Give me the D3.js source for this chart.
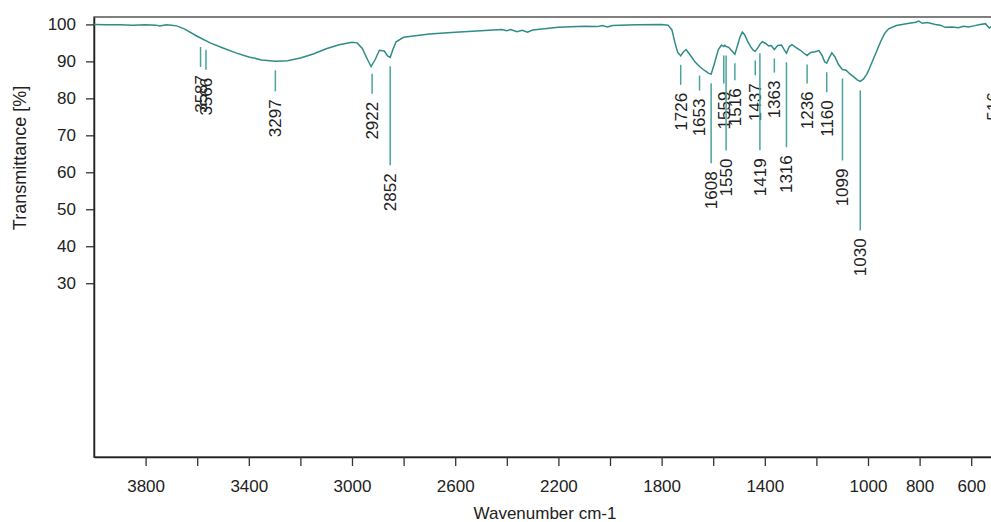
<!DOCTYPE html>
<html>
<head>
<meta charset="utf-8">
<script src="https://cdn.jsdelivr.net/npm/d3@7"></script>
<style>
body { margin:0; background:#fff; }
text { font-family: Arial, "Liberation Sans", sans-serif; fill:#222; }
</style>
</head>
<body>
<script>
// spectrum: wavenumber (cm-1) and transmittance (%)
var wavenumbers = [4000,3950,3900,3850,3800,3760,3745,3720,3700,3680,3650,3600,3550,3500,3450,3400,3350,3297,3250,3200,3150,3100,3050,3000,2980,2960,2940,2926,2910,2894,2875,2862,2852,2840,2829,2800,2700,2600,2500,2420,2400,2385,2360,2340,2320,2300,2200,2100,2050,2030,2010,1990,1900,1800,1775,1760,1748,1738,1726,1715,1705,1690,1670,1653,1635,1620,1608,1595,1580,1568,1559,1555,1550,1540,1530,1516,1505,1495,1487,1478,1468,1455,1445,1437,1428,1419,1410,1398,1385,1375,1363,1350,1335,1325,1316,1305,1295,1280,1262,1248,1236,1222,1205,1190,1178,1168,1160,1150,1140,1128,1115,1099,1085,1070,1055,1042,1030,1018,1005,995,980,965,950,935,920,890,868,840,815,803,790,770,739,720,700,674,650,630,610,590,570,545,530,515,500];
var transmittance = [100,99.9,99.9,99.8,99.9,99.8,99.6,99.9,99.8,99.6,98.8,96.8,95.0,93.6,92.3,91.2,90.4,90.0,90.2,90.9,92.0,93.4,94.5,95.2,95.0,93.5,90.5,88.6,90.5,93.0,92.8,91.5,91.1,93.5,95.3,96.5,97.4,97.9,98.3,98.6,98.3,98.6,98.0,98.4,97.9,98.5,99.2,99.5,99.4,99.7,99.3,99.7,99.9,100,99.8,98.5,95.0,92.5,91.5,92.6,93.2,91.8,89.8,88.6,87.6,86.9,86.5,89.5,93.2,94.4,94.0,94.4,94.0,93.8,93.0,91.9,94.5,96.8,97.9,97.2,95.6,94.0,93.0,92.7,93.6,94.6,95.3,94.9,94.2,94.3,93.2,94.3,94.4,93.2,92.2,94.0,94.5,93.8,93.0,92.2,91.6,92.4,92.6,92.9,91.6,89.9,89.5,91.0,92.3,91.2,89.2,87.8,87.6,86.6,85.8,85.0,84.6,85.2,86.5,88.0,90.5,93.0,95.5,97.6,98.8,99.7,100,100.3,100.6,100.9,100.3,100.5,100,99.8,99.2,99.3,99.1,99.5,99.3,99.6,99.9,100.2,99.0,99.8,100];

// picked peaks and the length of their marker lines
var peaks = [3587,3566,3297,2922,2852,1726,1653,1608,1559,1550,1516,1437,1419,1363,1316,1236,1160,1099,1030,516];
var peakLabels = ["3587","3566","3297","2922","2852","1726","1653","1608","1559","1550","1516","1437","1419","1363","1316","1236","1160","1099","1030","516"];
var peakLineLen = [20,20,21,20,99,20,15,80,28,95,17,15,97,14,85,19,20,82,140,50];

var xTicks = [3800,3600,3400,3200,3000,2800,2600,2400,2200,2000,1800,1600,1400,1200,1000,800,600];
var xTickLabels = [3800,3400,3000,2600,2200,1800,1400,1000,800,600];
var yTicks = [30,40,50,60,70,80,90,100];

var totalWidth = 991;
var totalHeight = 522;
var margin = {top:17,left:94,bottom:65,right:-6};
var width = totalWidth - margin.left - margin.right;
var height = totalHeight - margin.top - margin.bottom;

var svg = d3.select("body")
    .append("svg")
    .attr("width",totalWidth)
    .attr("height",totalHeight)
    .append("g")
    .attr("transform","translate("+margin.left+","+margin.top+")");

var xScale = d3.scaleLinear().domain([4000,500]).range([0,width]);
var yScale = d3.scaleLinear().domain([-17,102]).range([height,0]);

var spectrum = wavenumbers.map(function(w,i){ return [w,transmittance[i]]; });

function valueAt(w){
    for(var i = 0 ; i < wavenumbers.length-1 ; ++i){
        var a = wavenumbers[i], b = wavenumbers[i+1];
        if(w <= a && w >= b){
            var t = (a-w)/(a-b);
            return transmittance[i] + t*(transmittance[i+1]-transmittance[i]);
        }
    }
    return 100;
}

// frame
svg.append("rect")
    .attr("x",0).attr("y",0)
    .attr("width",width).attr("height",height)
    .attr("fill","none")
    .attr("stroke","#555")
    .attr("stroke-width",1.5);

var xAxisGroup = svg.append("g")
    .attr("transform","translate(0,"+height+")");
var xAxis = d3.axisBottom(xScale)
    .tickValues(xTicks)
    .tickSize(9)
    .tickSizeOuter(0)
    .tickPadding(14)
    .tickFormat(function(d){ return xTickLabels.indexOf(d) >= 0 ? d : ""; });
xAxis(xAxisGroup);

var yAxisGroup = svg.append("g");
var yAxis = d3.axisLeft(yScale)
    .tickValues(yTicks)
    .tickSize(8)
    .tickSizeOuter(0)
    .tickPadding(10);
yAxis(yAxisGroup);

[xAxisGroup,yAxisGroup].forEach(function(g){
    g.select(".domain").attr("stroke","#222").attr("stroke-width",1.5);
    g.selectAll(".tick line").attr("stroke","#333").attr("stroke-width",1.3);
    g.selectAll(".tick text")
        .style("font-family","Arial, 'Liberation Sans', sans-serif")
        .style("font-size","17px")
        .attr("fill","#222");
});

svg.append("text")
    .attr("x",545 - margin.left)
    .attr("y",height + 62)
    .style("text-anchor","middle")
    .style("font-size","17px")
    .text("Wavenumber cm-1");

svg.append("text")
    .attr("transform","rotate(-90)")
    .attr("x",0 - (158 - margin.top))
    .attr("y",20 - margin.left)
    .attr("dy","0.35em")
    .style("text-anchor","middle")
    .style("font-size","18px")
    .text("Transmittance [%]");

var line = d3.line()
    .x(function(d){ return xScale(d[0]); })
    .y(function(d){ return yScale(d[1]); });

svg.append("path")
    .datum(spectrum)
    .attr("d",line)
    .attr("fill","none")
    .attr("stroke","#2f8c87")
    .attr("stroke-width",1.5);

// peak markers
var marks = svg.selectAll("g.peak")
    .data(peaks)
    .enter()
    .append("g")
    .attr("class","peak");

marks.append("line")
    .attr("x1",function(d){ return xScale(d); })
    .attr("x2",function(d){ return xScale(d); })
    .attr("y1",function(d){ return yScale(valueAt(d)) + 9; })
    .attr("y2",function(d,i){ return yScale(valueAt(d)) + 9 + peakLineLen[i]; })
    .attr("stroke","#4aa39e")
    .attr("stroke-width",1.5);

marks.append("text")
    .attr("transform",function(d,i){
        var y = yScale(valueAt(d)) + 9 + peakLineLen[i] + 8;
        return "translate("+xScale(d)+","+y+") rotate(-90)";
    })
    .attr("dy","0.35em")
    .style("text-anchor","end")
    .style("font-size","17px")
    .text(function(d,i){ return peakLabels[i]; });
</script>
</body>
</html>
